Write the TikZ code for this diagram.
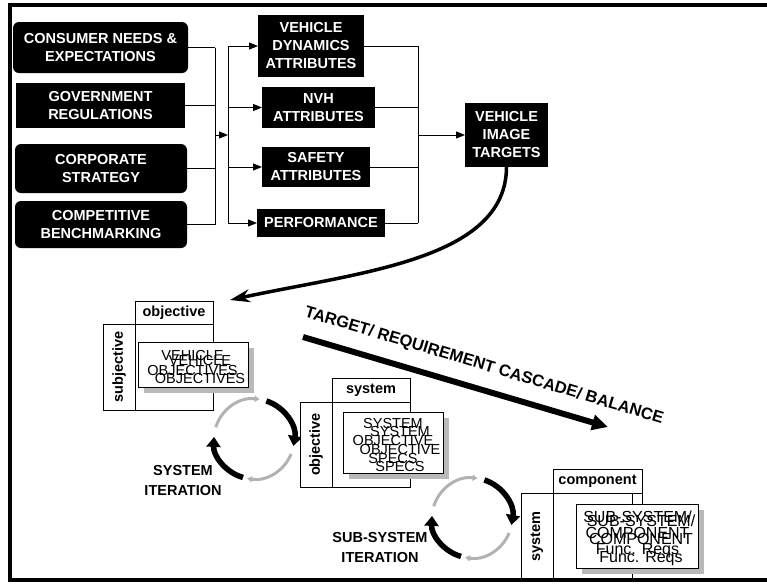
\documentclass[tikz,border=0pt]{standalone}
\usepackage{fontspec}
\setmainfont{Liberation Sans}
\usetikzlibrary{arrows.meta,calc,shadows}
\begin{document}
\begin{tikzpicture}[x=1pt,y=1pt,
  every node/.style={inner sep=0pt,outer sep=0pt},
  darkbox/.style={fill=black,text=white,align=center,font=\fontsize{14.5}{18}\selectfont\bfseries},
  roundbox/.style={darkbox,rounded corners=6pt},
  conn/.style={line width=1pt},
  tipped/.style={-{Triangle[length=9pt,width=7pt]}},
  cell/.style={draw,line width=0.9pt,fill=white},
  celltext/.style={cell,font=\fontsize{14.5}{16}\selectfont\bfseries},
  card/.style={draw,line width=0.9pt,fill=white,
    drop shadow={shadow xshift=6pt,shadow yshift=-6pt,fill=gray!55,opacity=1}},
  overprint/.style={align=center},
  iterlabel/.style={align=center,font=\fontsize{14.5}{20}\selectfont\bfseries},
  solidarc/.style={line width=5.5pt,-{Triangle[length=10pt,width=14pt]}},
  faintarc/.style={line width=3pt,gray!60,-{Triangle[length=5pt,width=6pt]}},
]
\useasboundingbox (0,0) rectangle (767,-584);

% ---- sources of requirements ----
\node[roundbox,minimum width=175pt,minimum height=51pt] (cons) at (100.5,-47.5) {CONSUMER NEEDS \&\\EXPECTATIONS};
\node[darkbox,minimum width=169pt,minimum height=45pt] (gov) at (100.5,-105.5) {GOVERNMENT\\REGULATIONS};
\node[roundbox,minimum width=172pt,minimum height=49pt] (corp) at (101,-168.5) {CORPORATE\\STRATEGY};
\node[roundbox,minimum width=172pt,minimum height=47pt] (bench) at (101,-224.5) {COMPETITIVE\\BENCHMARKING};

% ---- attribute groups ----
\node[darkbox,minimum width=106pt,minimum height=62pt] (vda) at (311,-46) {VEHICLE\\DYNAMICS\\ATTRIBUTES};
\node[darkbox,minimum width=113pt,minimum height=41pt] (nvh) at (318.5,-107.5) {NVH\\ATTRIBUTES};
\node[darkbox,minimum width=108pt,minimum height=40pt] (safety) at (316,-167) {SAFETY\\ATTRIBUTES};
\node[darkbox,minimum width=128pt,minimum height=28pt] (perf) at (321,-223) {PERFORMANCE};
\node[darkbox,minimum width=83pt,minimum height=64pt] (target) at (506.5,-135) {VEHICLE\\IMAGE\\TARGETS};

% ---- collector lines ----
\coordinate (ja) at (215,-135);
\coordinate (jb) at (228,-135);
\coordinate (jc) at (418,-135);
\foreach \n in {cons,gov,corp,bench}
  \draw[conn] (\n.east) -- (\n.east -| ja);
\draw[conn] (cons.east -| ja) -- (bench.east -| ja);
\draw[conn,tipped] (ja) -- (jb);
\draw[conn] (vda.west -| jb) -- (perf.west -| jb);
\foreach \n in {vda,nvh,safety,perf}
  \draw[conn,tipped] (\n.west -| jb) -- (\n.west);
\foreach \n in {vda,nvh,safety,perf}
  \draw[conn] (\n.east) -- (\n.east -| jc);
\draw[conn] (vda.east -| jc) -- (perf.east -| jc);
\draw[conn,tipped] (jc) -- (target.west);

% ---- vehicle level ----
\node[cell,minimum width=78pt,minimum height=86pt] (body1) at (174,-367) {};
\node[celltext,minimum width=78pt,minimum height=23pt] (tab1) at (174,-312.5) {objective};
\node[celltext,rotate=90,minimum width=86pt,minimum height=32pt] (side1) at (119,-367) {subjective};
\node[card,minimum width=110pt,minimum height=45pt] (card1) at (193,-364.5) {};
\node[overprint,font=\fontsize{14.5}{15}\selectfont] (v1a) at (192.5,-362.5) {VEHICLE\\OBJECTIVES};
\node[overprint,font=\fontsize{14.5}{18}\selectfont] (v1b) at (200,-369) {VEHICLE\\OBJECTIVES};

% target flow down to vehicle objectives
\coordinate (vin) at (230,-300);
\draw[line width=3.5pt,-{Stealth[length=20pt,width=13pt]}]
  (target.south) .. controls (506,-260) and (360,-272) .. (vin);

% cascade arrow and its caption
\coordinate (cs) at (303,-337);
\coordinate (ce) at (608,-427);
\draw[line width=6pt,-{Triangle[length=16pt,width=15pt]}] (cs) -- (ce);
\node[rotate=-16.7,font=\fontsize{16.5}{17}\selectfont\bfseries] (cascade) at (484,-366)
  {TARGET/ REQUIREMENT CASCADE/ BALANCE};

% ---- system iteration loop ----
\coordinate (c1) at (254,-439);
\draw[solidarc] ($(c1)+(72:40)$) arc[start angle=72,end angle=-10,radius=40];
\draw[faintarc] ($(c1)+(-22:40)$) arc[start angle=-22,end angle=-100,radius=40];
\draw[solidarc] ($(c1)+(-106:40)$) arc[start angle=-106,end angle=-183,radius=40];
\draw[faintarc] ($(c1)+(163:40)$) arc[start angle=163,end angle=82,radius=40];
\node[iterlabel] (iter1) at (183,-480) {SYSTEM\\ITERATION};

% ---- system level ----
\node[cell,minimum width=78pt,minimum height=85pt] (body2) at (371,-444.5) {};
\node[celltext,minimum width=78pt,minimum height=24pt] (tab2) at (371,-390) {system};
\node[celltext,rotate=90,minimum width=85pt,minimum height=32pt] (side2) at (316,-444.5) {objective};
\node[card,minimum width=100pt,minimum height=61pt] (card2) at (393,-442.5) {};
\node[overprint,font=\fontsize{14.5}{17.5}\selectfont] (s2a) at (393,-440.5) {SYSTEM\\OBJECTIVE\\SPECS};
\node[overprint,font=\fontsize{14.5}{17.5}\selectfont] (s2b) at (400,-449) {SYSTEM\\OBJECTIVE\\SPECS};

% ---- sub-system iteration loop ----
\coordinate (c2) at (472,-518);
\draw[solidarc] ($(c2)+(72:40)$) arc[start angle=72,end angle=-10,radius=40];
\draw[faintarc] ($(c2)+(-22:40)$) arc[start angle=-22,end angle=-100,radius=40];
\draw[solidarc] ($(c2)+(-106:40)$) arc[start angle=-106,end angle=-183,radius=40];
\draw[faintarc] ($(c2)+(163:40)$) arc[start angle=163,end angle=82,radius=40];
\node[iterlabel] (iter2) at (380,-547.5) {SUB-SYSTEM\\ITERATION};

% ---- component level ----
\node[cell,minimum width=79pt,minimum height=87pt] (body3) at (592.5,-536.5) {};
\node[celltext,minimum width=89pt,minimum height=24pt] (tab3) at (597.5,-481) {component};
\node[celltext,rotate=90,minimum width=87pt,minimum height=32pt] (side3) at (537,-536.5) {system};
\node[card,minimum width=122pt,minimum height=64pt] (card3) at (637,-536) {};
\draw[line width=0.9pt] (tab3.south east) -- (tab3.south east |- card3.north);
\node[overprint,font=\fontsize{16}{16}\selectfont] (c3a) at (637.5,-534) {SUB-SYSTEM/\\COMPONENT\\Func. Reqs};
\node[overprint,font=\fontsize{16}{18}\selectfont] (c3b) at (641,-540) {SUB-SYSTEM/\\COMPONENT\\Func. Reqs};

% ---- page frame ----
\draw[line width=3.5pt] (10,-5) rectangle (780,-580);
\end{tikzpicture}
\end{document}
